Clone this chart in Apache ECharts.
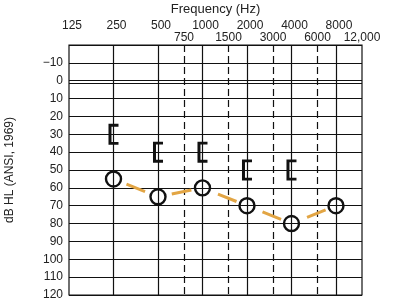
<!DOCTYPE html>
<html>
<head>
<meta charset="utf-8">
<script src="https://cdn.jsdelivr.net/npm/echarts@6/dist/echarts.min.js"></script>
<style>
  html, body { margin: 0; padding: 0; background: #fff; }
  #chart { width: 395px; height: 303px; }
</style>
</head>
<body>
<div id="chart"></div>
<script>
// audiogram data
var freqMin = 125;
var freqMax = 12000;
var octaveFreqs = [250, 500, 1000, 2000, 4000, 8000];
var halfOctaveFreqs = [750, 1500, 3000, 6000];
var topRowLabels = [125, 250, 500, 1000, 2000, 4000, 8000];
var bottomRowLabels = [750, 1500, 3000, 6000, 12000];

var airFreqs = [250, 500, 1000, 2000, 4000, 8000];
var airLevels = [55, 65, 60, 70, 80, 70];
var boneFreqs = [250, 500, 1000, 2000, 4000];
var boneLevels = [30, 40, 40, 50, 50];

var FONT = "'Liberation Sans', Arial, sans-serif";
var INK = "#111";

var chart = echarts.init(document.getElementById("chart"));

var vLines = [];
octaveFreqs.forEach(function (f) {
  vLines.push({ xAxis: f, lineStyle: { color: INK, width: 1.2, type: "solid" } });
});
halfOctaveFreqs.forEach(function (f) {
  vLines.push({ xAxis: f, lineStyle: { color: INK, width: 1.2, type: [7, 4] } });
});
// second rule under 0 dB (double line)
vLines.push({ yAxis: 1.6, lineStyle: { color: INK, width: 1.2, type: "solid" } });

chart.setOption({
  animation: false,
  grid: {
    left: 69, right: 33, top: 45, bottom: 8,
    outerBoundsMode: "none",
    containLabel: false,
    show: true, borderColor: INK, borderWidth: 1.2
  },
  xAxis: {
    type: "log",
    logBase: 2,
    min: freqMin,
    max: freqMax,
    position: "top",
    name: "Frequency (Hz)",
    nameLocation: "middle",
    nameGap: 29,
    nameTextStyle: { color: "#222", fontSize: 13, fontFamily: FONT },
    axisLine: { show: false },
    axisTick: { show: false },
    axisLabel: { show: false },
    splitLine: { show: false }
  },
  yAxis: {
    type: "value",
    inverse: true,
    min: -20,
    max: 120,
    interval: 10,
    name: "dB HL (ANSI, 1969)",
    nameLocation: "middle",
    nameGap: 53,
    nameTextStyle: { color: "#222", fontSize: 12, fontFamily: FONT },
    axisLine: { show: false },
    axisTick: { show: false },
    axisLabel: {
      color: "#222", fontSize: 12, fontFamily: FONT, margin: 6,
      formatter: function (v) {
        if (v === -20) return "";
        return v < 0 ? "\u2212" + Math.abs(v) : String(v);
      }
    },
    splitLine: { lineStyle: { color: INK, width: 1.2 } }
  },
  series: [
    {
      name: "air",
      type: "line",
      data: airFreqs.map(function (f, i) { return [f, airLevels[i]]; }),
      symbol: "circle",
      symbolSize: 15,
      itemStyle: { color: "rgba(0,0,0,0)", borderColor: INK, borderWidth: 2.4 },
      lineStyle: { color: "#e2a544", width: 3, type: [20, 28], dashOffset: -14 },
      z: 4,
      markLine: {
        silent: true,
        symbol: "none",
        label: { show: false },
        data: vLines,
        z: 1
      }
    },
    {
      name: "bone",
      type: "scatter",
      data: boneFreqs.map(function (f, i) { return [f, boneLevels[i]]; }),
      symbol: "path://M0,0H10V3H3V19H10V22H0Z",
      symbolSize: [10, 21],
      itemStyle: { color: INK, opacity: 1 },
      z: 5
    }
  ]
});

// frequency labels in two rows above the grid
var texts = [];
topRowLabels.forEach(function (f) {
  var x = chart.convertToPixel({ xAxisIndex: 0 }, f);
  texts.push({
    type: "text", x: x + 3, y: 26,
    style: { text: String(f), font: "12px " + FONT, fill: "#222", textAlign: "center", textVerticalAlign: "middle" }
  });
});
bottomRowLabels.forEach(function (f) {
  var x = chart.convertToPixel({ xAxisIndex: 0 }, f);
  texts.push({
    type: "text", x: x, y: 37.5,
    style: { text: f >= 10000 ? "12,000" : String(f), font: "12px " + FONT, fill: "#222", textAlign: "center", textVerticalAlign: "middle" }
  });
});
chart.setOption({ graphic: texts });
</script>
</body>
</html>
